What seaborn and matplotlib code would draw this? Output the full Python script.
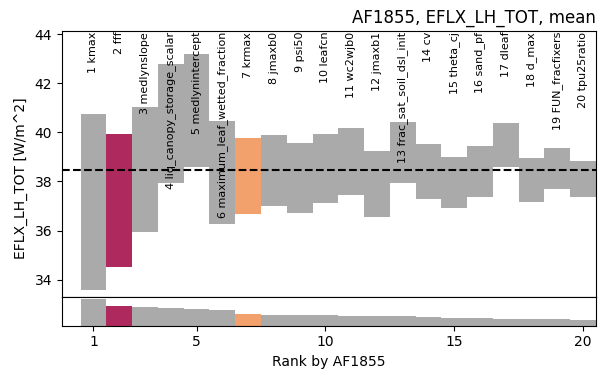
import matplotlib
matplotlib.use("Agg")
import matplotlib.pyplot as plt
import matplotlib.transforms as mtransforms
import pandas as pd
import seaborn as sns

# Parameter ranking for one site: low/high response of the mean latent heat flux
site = "AF1855"
variable = "EFLX_LH_TOT"
units = "W/m^2"
ranks = list(range(1, 21))
params = [
    "kmax", "fff", "medlynslope", "liq_canopy_storage_scalar", "medlynintercept",
    "maximum_leaf_wetted_fraction", "krmax", "jmaxb0", "psi50", "leafcn",
    "wc2wjb0", "jmaxb1", "frac_sat_soil_dsl_init", "cv", "theta_cj",
    "sand_pf", "dleaf", "d_max", "FUN_fracfixers", "tpu25ratio",
]
low = [33.59, 34.53, 35.94, 37.92, 38.60, 36.26, 36.67, 36.99, 36.72, 37.14,
       37.45, 36.57, 37.92, 37.28, 36.93, 37.37, 38.60, 37.18, 37.70, 37.36]
high = [40.73, 39.94, 41.02, 42.78, 43.21, 40.47, 39.78, 39.90, 39.55, 39.93,
        40.16, 39.25, 40.43, 39.51, 39.01, 39.43, 40.39, 38.94, 39.37, 38.84]
default_value = 38.48

GRAY = "#aaaaaa"
HIGHLIGHT = {2: "#ae2a5e", 7: "#f2a06c"}

df = pd.DataFrame({"rank": ranks, "param": params, "low": low, "high": high})
df["span"] = df["high"] - df["low"]

plt.rcParams["font.family"] = ["DejaVu Sans"]

fig = plt.figure(figsize=(6.01, 3.70), dpi=100)
ax = fig.add_axes([0.1032, 0.1973, 0.8885, 0.7189])
axr = fig.add_axes([0.1032, 0.1197, 0.8885, 0.0776], sharex=ax)


def recolor(axis):
    for patch, r in zip(axis.patches, df["rank"]):
        patch.set_facecolor(HIGHLIGHT.get(r, GRAY))


# floating bars: each parameter's low-to-high range
sns.barplot(data=df, x="rank", y="span", bottom=df["low"].to_numpy(),
            native_scale=True, width=1.0, color=GRAY, saturation=1,
            errorbar=None, linewidth=0, ax=ax)
recolor(ax)
ax.axhline(default_value, color="k", ls="--", lw=1.5)

trans = mtransforms.blended_transform_factory(ax.transData, ax.transAxes)
for r, p in zip(ranks, params):
    ax.text(r, 0.997, f"{r} {p}", transform=trans, rotation=90,
            ha="center", va="top", fontsize=8)

ax.set_ylim(33.29, 44.13)
ax.set_yticks([34, 36, 38, 40, 42, 44])
ax.set_xlabel("")
ax.set_ylabel("")
ax.tick_params(axis="x", bottom=False, labelbottom=False)
ax.set_title(f"{site}, {variable}, mean", loc="right", fontsize=12)

# strip below: size of each range
sns.barplot(data=df, x="rank", y="span", native_scale=True, width=1.0,
            color=GRAY, saturation=1, errorbar=None, linewidth=0, ax=axr)
recolor(axr)
axr.set_ylim(0, 7.7)
axr.set_yticks([])
axr.set_ylabel("")
axr.set_xticks([1, 5, 10, 15, 20])
axr.set_xlim(-0.22, 20.5)
axr.set_xlabel(f"Rank by {site}", fontsize=10)

fig.text(21 / 601, 1 - 178.5 / 370, f"{variable} [{units}]", rotation=90,
         ha="center", va="center", fontsize=10)

fig.savefig("out.png", dpi=100)
